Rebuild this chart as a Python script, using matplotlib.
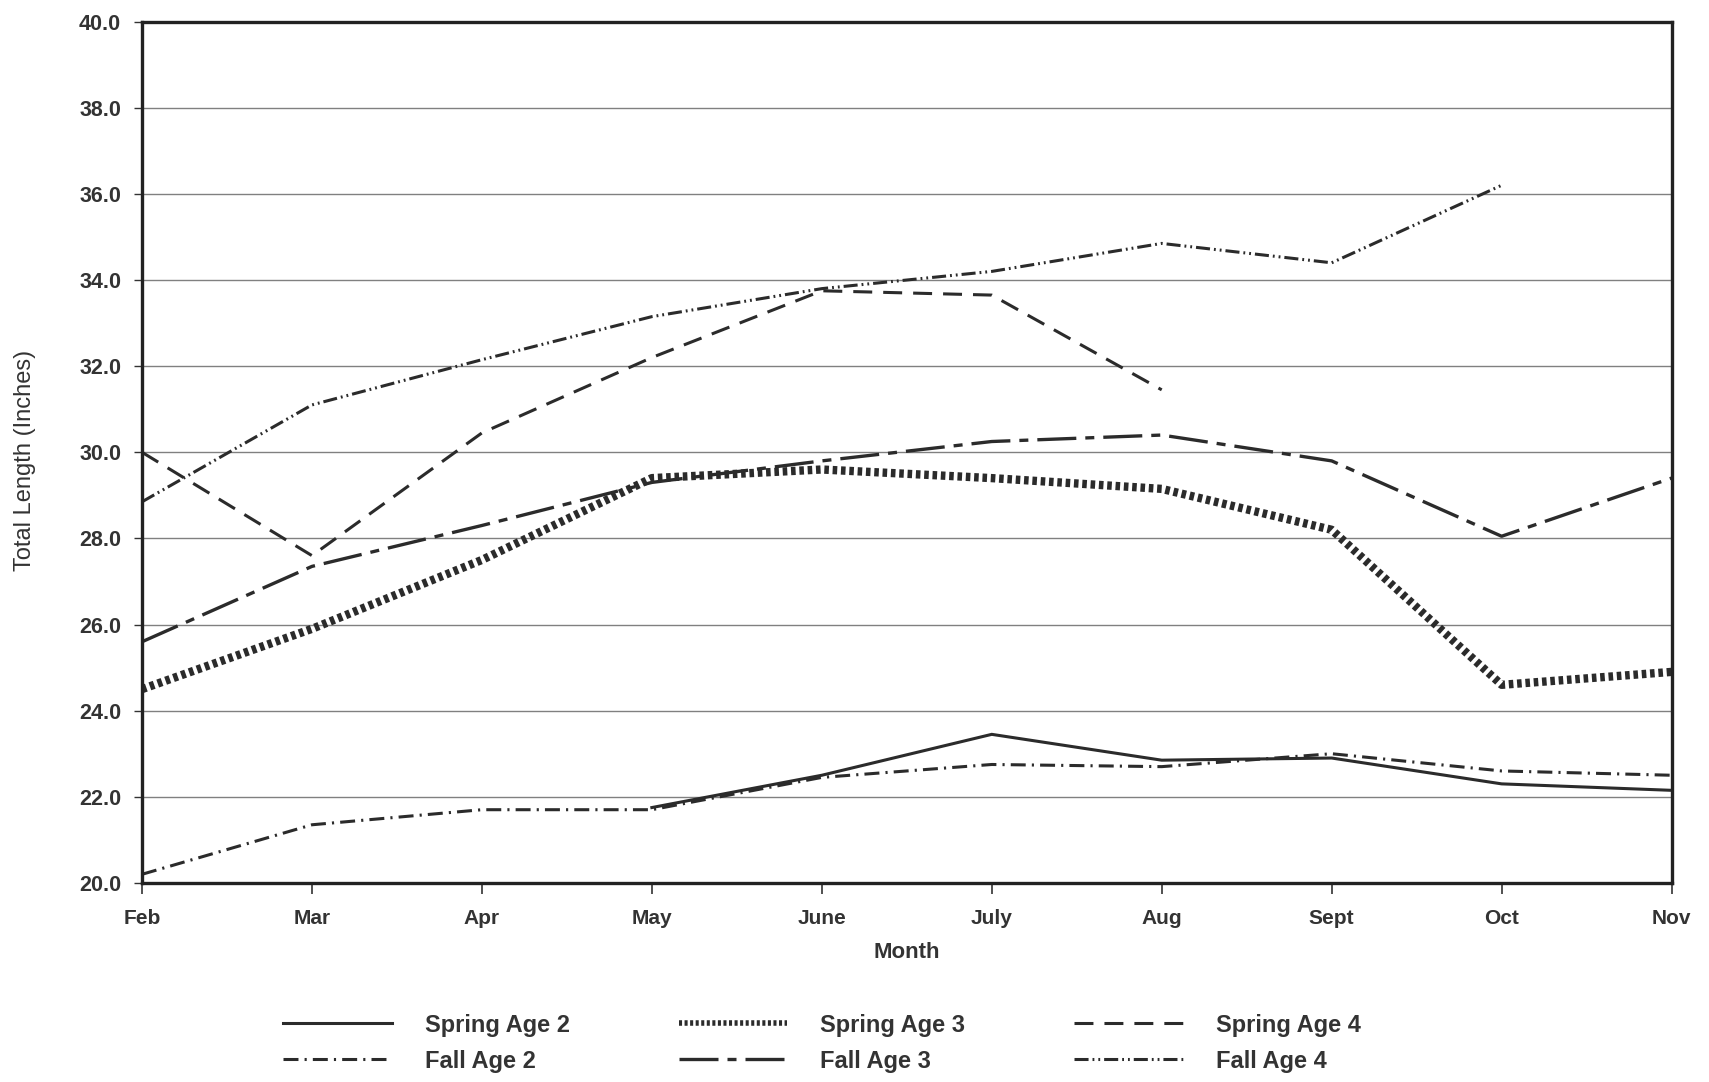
import numpy as np
import matplotlib
matplotlib.use("Agg")
import matplotlib.pyplot as plt

nan = np.nan
months = ["Feb", "Mar", "Apr", "May", "June", "July", "Aug", "Sept", "Oct", "Nov"]
spring_age2 = [nan, nan, nan, 21.75, 22.5, 23.45, 22.85, 22.9, 22.3, 22.15]
spring_age3 = [24.5, 25.9, 27.5, 29.4, 29.6, 29.4, 29.15, 28.2, 24.6, 24.9]
spring_age4 = [30.0, 27.6, 30.45, 32.2, 33.75, 33.65, 31.45, nan, nan, nan]
fall_age2 = [20.2, 21.35, 21.7, 21.7, 22.45, 22.75, 22.7, 23.0, 22.6, 22.5]
fall_age3 = [25.6, 27.35, 28.3, 29.3, 29.8, 30.25, 30.4, 29.8, 28.05, 29.4]
fall_age4 = [28.85, 31.1, 32.15, 33.15, 33.8, 34.2, 34.85, 34.4, 36.2, nan]
yticks = [20.0, 22.0, 24.0, 26.0, 28.0, 30.0, 32.0, 34.0, 36.0, 38.0, 40.0]

plt.rcParams['font.family'] = ['Liberation Sans', 'DejaVu Sans']

fig = plt.figure(figsize=(17.09, 10.82), dpi=100)
ax = fig.add_axes([0.0831, 0.184, 0.895, 0.796])

x = np.arange(len(months))
c = "#2b2b2b"
series = [
    ("Spring Age 2", spring_age2, dict(lw=2.2, ls="-")),
    ("Fall Age 2", fall_age2, dict(lw=2.2, ls=(0, (4.9, 2.0, 0.7, 2.0)))),
    ("Spring Age 3", spring_age3, dict(lw=6.0, ls=(0, (0.55, 0.45)))),
    ("Fall Age 3", fall_age3, dict(lw=2.4, ls=(0, (11.7, 2.7, 2.7, 2.7)))),
    ("Spring Age 4", spring_age4, dict(lw=2.2, ls=(0, (6.2, 3.6)))),
    ("Fall Age 4", fall_age4, dict(lw=2.2, ls=(0, (4.6, 1.3, 0.6, 1.3, 0.6, 1.3)))),
]
handles = []
for name, vals, st in series:
    h, = ax.plot(x, vals, color=c, label=name, dash_capstyle="butt",
                 solid_joinstyle="miter", **st)
    handles.append(h)

ax.set_xlim(0, len(months) - 1)
ax.set_ylim(20, 40)
ax.set_yticks(yticks)
ax.set_yticklabels([f"{v:.1f}" for v in yticks], fontsize=15.5, fontweight="bold",
                   color="#333333")
ax.set_xticks(x)
ax.set_xticklabels(months, fontsize=15, fontweight="bold", color="#333333")
ax.tick_params(axis="x", length=8, width=1.2, pad=11, colors="#333333", direction="out")
ax.tick_params(axis="y", length=6, width=1.0, pad=9, colors="#333333", direction="out")

ax.yaxis.grid(True, color="#808080", lw=1.0)
ax.set_axisbelow(True)
for s in ax.spines.values():
    s.set_linewidth(2.4)
    s.set_color("#222222")

ax.set_xlabel("Month", fontsize=16, fontweight="bold", color="#333333", labelpad=10)
ax.set_ylabel("Total Length (Inches)", fontsize=17, color="#333333")
ax.yaxis.set_label_coords(-0.069, 0.49)

leg = fig.legend(handles=handles, loc="center", bbox_to_anchor=(0.481, 0.036), ncol=3,
                 frameon=False, prop=dict(size=17, weight="bold"), handlelength=4.6,
                 handletextpad=1.4, columnspacing=4.6, labelspacing=0.55,
                 labelcolor="#333333")
leg.get_lines()[2].set_linewidth(4.0)

fig.savefig("out.png", dpi=100, facecolor="white")
